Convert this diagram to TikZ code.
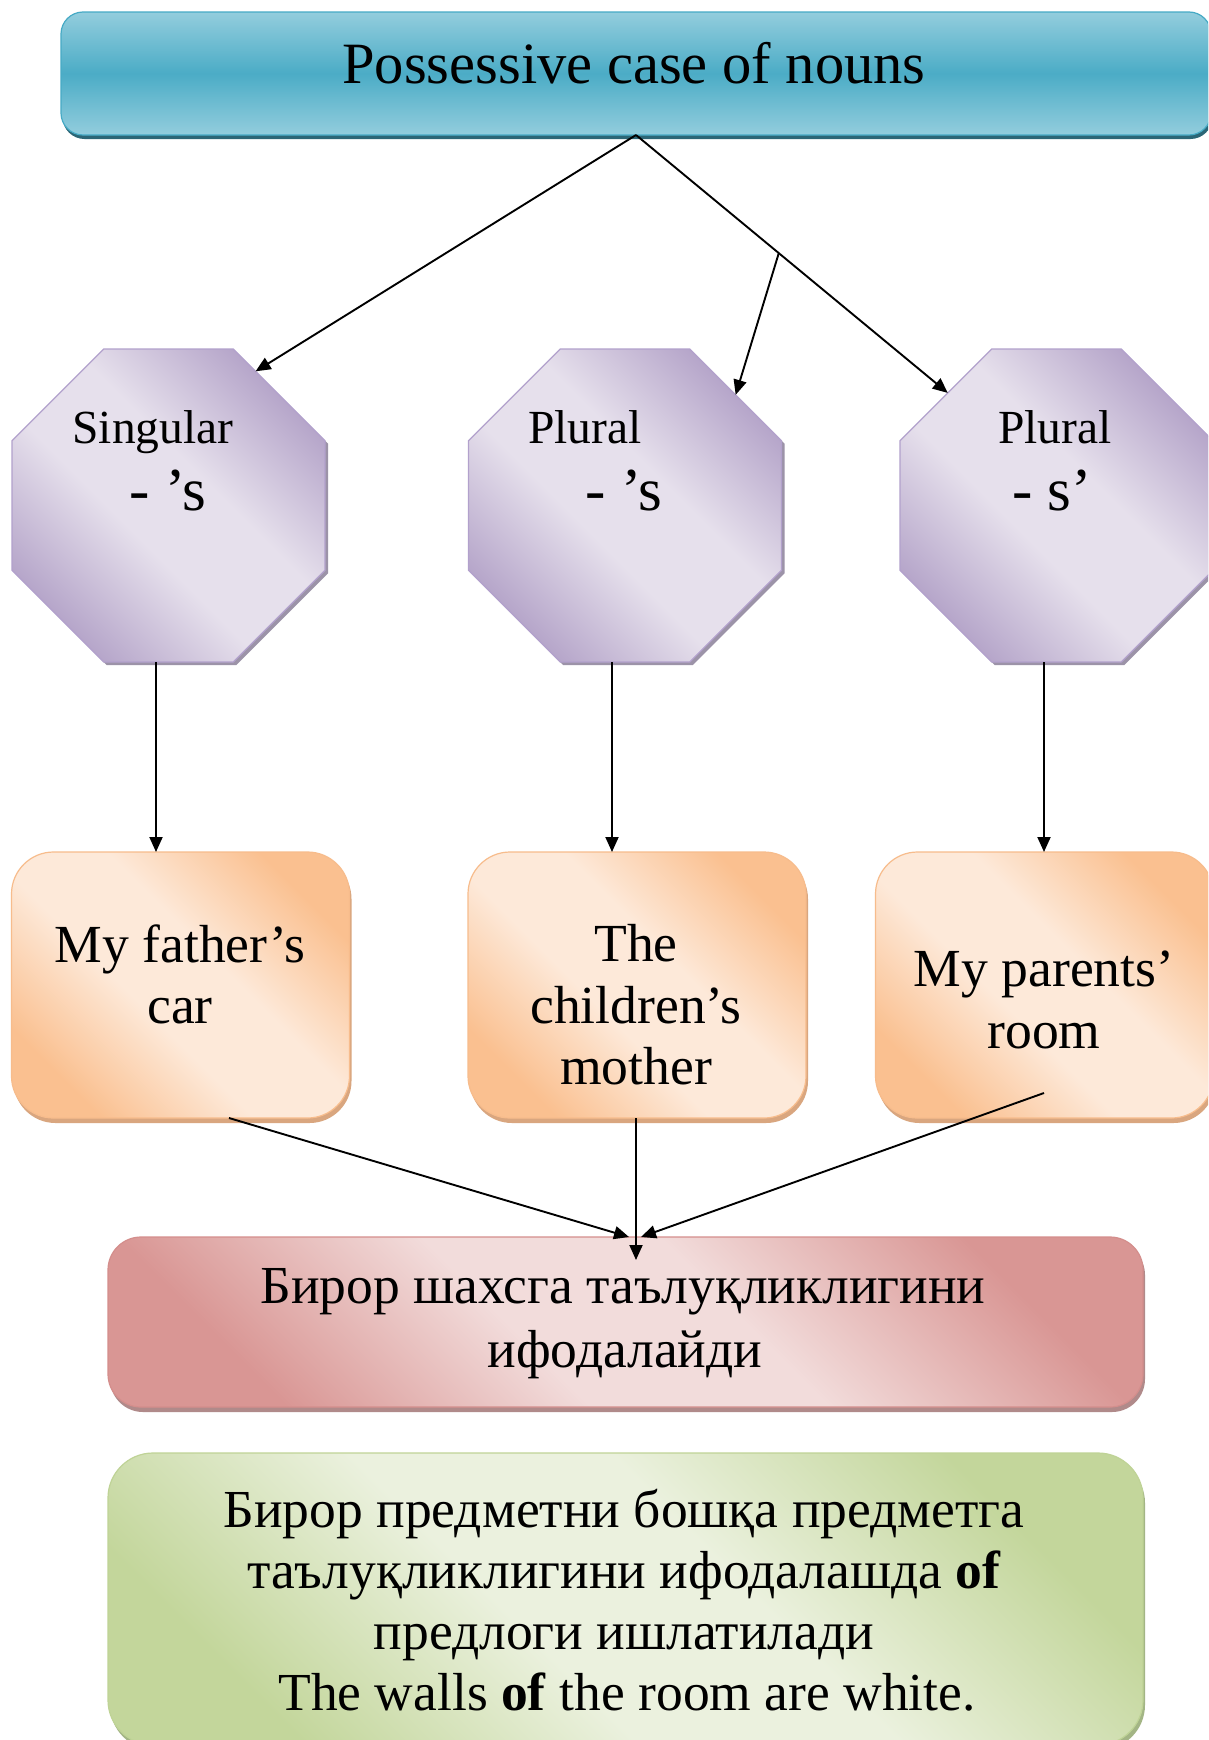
\documentclass[tikz,border=0pt]{standalone}
\usepackage{fontspec}
\setmainfont{Liberation Serif}
\usetikzlibrary{arrows.meta,shapes.geometric,shadows,calc}

\definecolor{tealL}{HTML}{93CDDD}
\definecolor{tealD}{HTML}{4BACC6}
\definecolor{tealB}{HTML}{46AAC5}
\definecolor{tealS}{HTML}{2B6676}
\definecolor{octD}{HTML}{B6A6CA}
\definecolor{octL}{HTML}{E6E0EC}
\definecolor{octB}{HTML}{B2A1CC}
\definecolor{octS}{HTML}{9C93A8}
\definecolor{orD}{HTML}{FAC090}
\definecolor{orL}{HTML}{FDE9D9}
\definecolor{orB}{HTML}{F7BC8C}
\definecolor{orS}{HTML}{D9A67F}
\definecolor{pkD}{HTML}{D99694}
\definecolor{pkL}{HTML}{F2DCDB}
\definecolor{pkB}{HTML}{D48E8C}
\definecolor{pkS}{HTML}{B08A8A}
\definecolor{grD}{HTML}{C3D69B}
\definecolor{grL}{HTML}{EBF1DE}
\definecolor{grB}{HTML}{BFD396}
\definecolor{grS}{HTML}{A3B585}

% diagonal fills: dark corners, broad light band
\pgfdeclareverticalshading{octsh}{100bp}{color(0bp)=(octD); color(25bp)=(octD); color(43bp)=(octL); color(57bp)=(octL); color(75bp)=(octD); color(100bp)=(octD)}
\pgfdeclareverticalshading{orsh}{100bp}{color(0bp)=(orD); color(25bp)=(orD); color(43bp)=(orL); color(57bp)=(orL); color(75bp)=(orD); color(100bp)=(orD)}
\pgfdeclareverticalshading{pksh}{100bp}{color(0bp)=(pkD); color(25bp)=(pkD); color(43bp)=(pkL); color(57bp)=(pkL); color(75bp)=(pkD); color(100bp)=(pkD)}
\pgfdeclareverticalshading{grsh}{100bp}{color(0bp)=(grD); color(25bp)=(grD); color(43bp)=(grL); color(57bp)=(grL); color(75bp)=(grD); color(100bp)=(grD)}

\begin{document}
\begin{tikzpicture}[x=1pt,y=-1pt,
  every node/.style={inner sep=0pt, outer sep=0pt},
  arr/.style={line width=1.9pt, -{Triangle[length=15pt,width=13pt]}},
  headbox/.style={rectangle, rounded corners=22pt, minimum width=1150pt, minimum height=123pt,
    draw=tealB, line width=1.2pt, top color=tealL, bottom color=tealL, middle color=tealD,
    drop shadow={shadow xshift=1.5pt, shadow yshift=-4pt, fill=tealS, opacity=1}},
  octbox/.style={regular polygon, regular polygon sides=8, minimum size=338.8pt,
    draw=octB, line width=1.2pt, shade, shading=octsh, shading angle=-45,
    drop shadow={shadow xshift=3pt, shadow yshift=-3pt, fill=octS, opacity=1}},
  exbox/.style={rectangle, rounded corners=42pt, minimum width=338pt, minimum height=266pt,
    draw=orB, line width=1.2pt, shade, shading=orsh, shading angle=-45,
    drop shadow={shadow xshift=2pt, shadow yshift=-5pt, fill=orS, opacity=1}},
  meanbox/.style={rectangle, rounded corners=33pt, minimum width=1035pt, minimum height=170pt,
    draw=pkB, line width=1.2pt, shade, shading=pksh, shading angle=-45,
    drop shadow={shadow xshift=2pt, shadow yshift=-5pt, fill=pkS, opacity=1}},
  ofbox/.style={rectangle, rounded corners=45pt, minimum width=1035pt, minimum height=292pt,
    draw=grB, line width=1.2pt, shade, shading=grsh, shading angle=-45,
    drop shadow={shadow xshift=2pt, shadow yshift=-5pt, fill=grS, opacity=1}},
  txt/.style={anchor=base},
  ttl/.style={txt, font=\fontsize{58.5}{70}\selectfont},
  kind/.style={txt, font=\fontsize{47.5}{56}\selectfont},
  suffix/.style={txt, font=\fontsize{61}{72}\selectfont},
  extxt/.style={txt, font=\fontsize{53.6}{61}\selectfont},
  meantxt/.style={txt, font=\fontsize{53.5}{64}\selectfont},
  oftxt/.style={txt, font=\fontsize{53.5}{61}\selectfont}
]
\path[use as bounding box] (0,0) rectangle (1208,1740);
\clip (0,0) rectangle (1208,1740);
\fill[white] (0,0) rectangle (1208,1740);

% heading
\node[headbox] (top) at (636,73.5) {};
\node[ttl] (toptxt) at (634,83) {Possessive case of nouns};

% the three forms
\node[octbox] (o1) at (168.5,505.5) {};
\node[octbox] (o2) at (625,505.5) {};
\node[octbox] (o3) at (1056.5,505.5) {};
\node[kind] (o1a) at (153,443) {Singular};
\node[suffix] (o1b) at (168,510) {-\ ’s};
\node[kind] (o2a) at (585,443) {Plural};
\node[suffix] (o2b) at (624,510) {-\ ’s};
\node[kind] (o3a) at (1055,443) {Plural};
\node[suffix] (o3b) at (1052,510) {-\ s’};

% examples
\node[exbox] (b1) at (180.5,985) {};
\node[exbox] (b2) at (637,985) {};
\node[exbox] (b3) at (1044.5,985) {};
\node[extxt] (b1a) at (180,962) {My father’s};
\node[extxt] (b1b) at (180,1023) {car};
\node[extxt] (b2a) at (636,961) {The};
\node[extxt] (b2b) at (636,1023) {children’s};
\node[extxt] (b2c) at (636,1084) {mother};
\node[extxt] (b3a) at (1044,986) {My parents’};
\node[extxt] (b3b) at (1044,1048) {room};

% meaning
\node[meanbox] (pk) at (625.5,1322) {};
\node[meantxt] (pka) at (623,1303) {Бирор шахсга таълуқликлигини};
\node[meantxt] (pkb) at (625,1367) {ифодалайди};

% the "of" construction
\node[ofbox] (gr) at (625.5,1599) {};
\node[oftxt] (gra) at (624,1527) {Бирор предметни бошқа предметга};
\node[oftxt] (grb) at (624,1588) {таълуқликлигини ифодалашда \textbf{of}};
\node[oftxt] (grc) at (624,1649) {предлоги ишлатилади};
\node[oftxt] (grd) at (627,1710) {The walls \textbf{of} the room are white.};

% connectors
\draw[arr] (top.south) -- (o1.57.7);
\draw[arr] (top.south) -- (o3.134.5);
\coordinate (br) at ($(top.south)!0.458!(o3.134.5)$);
\draw[arr] (br) -- (o2.45.7);

\draw[arr] ([xshift=-12.5pt]o1.south) -- ([xshift=-24.5pt]b1.north);
\draw[arr] ([xshift=-13pt]o2.south) -- ([xshift=-25pt]b2.north);
\draw[arr] ([xshift=-12.5pt]o3.south) -- ([xshift=-0.5pt]b3.north);

\draw[arr] ([xshift=48.5pt]b1.south) -- ([xshift=3.5pt]pk.north);
\draw[arr] ([xshift=-1pt]b2.south) -- ([xshift=10.5pt,yshift=-23pt]pk.north);
\draw[arr] ([xshift=-0.5pt,yshift=25pt]b3.south) -- ([xshift=15.5pt]pk.north);
\end{tikzpicture}
\end{document}
